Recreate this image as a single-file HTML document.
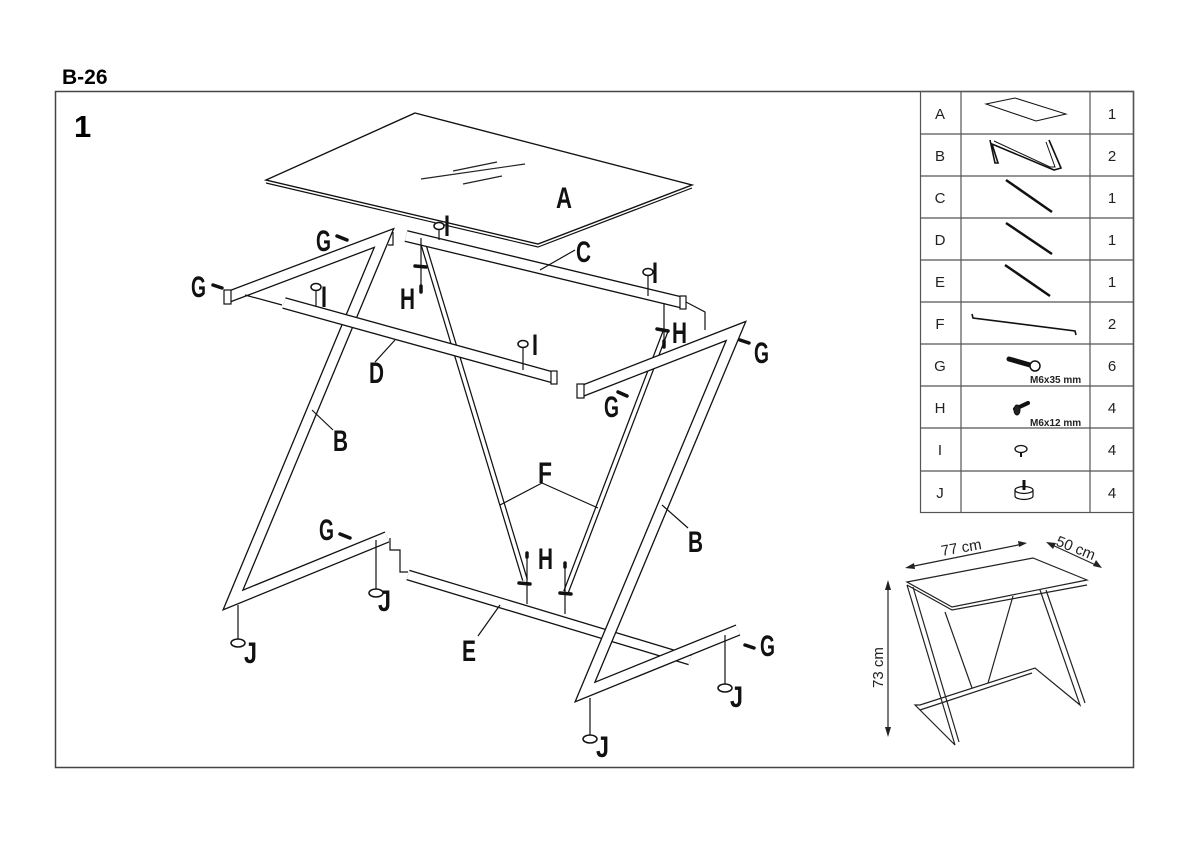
<!DOCTYPE html>
<html><head><meta charset="utf-8"><style>
html,body{margin:0;padding:0;background:#fff;width:1200px;height:848px;overflow:hidden}
svg{display:block}
.t{font-family:"Liberation Sans",sans-serif}
.lb{font-family:"Liberation Sans",sans-serif;font-weight:bold;font-size:30px}
</style></head><body>
<svg width="1200" height="848" viewBox="0 0 1200 848" xmlns="http://www.w3.org/2000/svg">
<text x="62" y="84" class="t" font-weight="bold" font-size="21">B-26</text>
<rect x="55.5" y="91.5" width="1078" height="676" fill="none" stroke="#444" stroke-width="1.5"/>
<text x="74" y="137" class="t" font-weight="bold" font-size="31">1</text>

<!-- glass A -->
<polygon points="415,113 692,185 538,244 266,180" fill="#fff" stroke="#111" stroke-width="1.4"/>
<polyline points="266,183 538,247 692,188" fill="none" stroke="#111" stroke-width="1.2"/>
<line x1="421" y1="179" x2="525" y2="164" stroke="#222" stroke-width="1.2"/>
<line x1="453" y1="171" x2="497" y2="162" stroke="#222" stroke-width="1.2"/>
<line x1="463" y1="184" x2="502" y2="176" stroke="#222" stroke-width="1.2"/>

<g fill="none" stroke-linejoin="miter" stroke-linecap="butt">
<g stroke="#111" stroke-width="6"><line x1="423" y1="243" x2="525" y2="580"/><line x1="666" y1="330" x2="566" y2="592"/></g>
<g stroke="#fff" stroke-width="3.5"><line x1="423" y1="243" x2="525" y2="580"/><line x1="666" y1="330" x2="566" y2="592"/></g>
<line x1="408" y1="575" x2="690" y2="660" stroke="#111" stroke-width="11"/>
<line x1="408" y1="575" x2="690" y2="660" stroke="#fff" stroke-width="8.4"/>
<polyline points="228,297 384,238 233,600 387,537" stroke="#111" stroke-width="12"/>
<polyline points="228,297 384,238 233,600 387,537" stroke="#fff" stroke-width="9.4"/>
<line x1="284" y1="303" x2="555" y2="378" stroke="#111" stroke-width="12"/>
<line x1="284" y1="303" x2="555" y2="378" stroke="#fff" stroke-width="9.4"/>
<line x1="406" y1="236" x2="684" y2="303" stroke="#111" stroke-width="12"/>
<line x1="406" y1="236" x2="684" y2="303" stroke="#fff" stroke-width="9.4"/>
<polyline points="582,391 736,331 585,692 738,630" stroke="#111" stroke-width="12"/>
<polyline points="582,391 736,331 585,692 738,630" stroke="#fff" stroke-width="9.4"/>
</g>
<g stroke="#111" stroke-width="1.2" fill="none">
<rect x="224" y="290" width="7" height="14" fill="#fff"/>
<rect x="577" y="384" width="7" height="14" fill="#fff"/>
<rect x="551" y="371" width="6" height="13" fill="#fff"/>
<rect x="680" y="296" width="6" height="13" fill="#fff"/>
<polyline points="393,232 393,245 388,245"/>
<polyline points="390,538 390,550 400,550 400,572 408,572"/>
<polyline points="686,302 705,312 705,330"/>
<line x1="245" y1="295" x2="282" y2="305"/>
<line x1="540" y1="270" x2="575" y2="250"/>
<line x1="395" y1="340" x2="375" y2="362"/>
<line x1="312" y1="410" x2="333" y2="430"/>
<polyline points="500,505 542,483 598,508"/>
<line x1="662" y1="505" x2="688" y2="528"/>
<line x1="500" y1="605" x2="478" y2="636"/>
<line x1="439" y1="228" x2="439" y2="240"/>
<line x1="316" y1="290" x2="316" y2="306"/>
<line x1="523" y1="347" x2="523" y2="370"/>
<line x1="648" y1="275" x2="648" y2="296"/>
<line x1="421" y1="238" x2="421" y2="285"/>
<line x1="664" y1="303" x2="664" y2="342"/>
<line x1="527" y1="555" x2="527" y2="604"/>
<line x1="565" y1="565" x2="565" y2="614"/>
<line x1="238" y1="605" x2="238" y2="640"/>
<line x1="376" y1="540" x2="376" y2="590"/>
<line x1="590" y1="698" x2="590" y2="735"/>
<line x1="725" y1="635" x2="725" y2="685"/>
</g>
<g fill="#fff" stroke="#111" stroke-width="1.5">
<ellipse cx="439" cy="226" rx="5" ry="3.5"/><ellipse cx="316" cy="287" rx="5" ry="3.5"/>
<ellipse cx="523" cy="344" rx="5" ry="3.5"/><ellipse cx="648" cy="272" rx="5" ry="3.5"/>
<ellipse cx="238" cy="643" rx="7" ry="4"/><ellipse cx="376" cy="593" rx="7" ry="4"/>
<ellipse cx="590" cy="739" rx="7" ry="4"/><ellipse cx="725" cy="688" rx="7" ry="4"/>
</g>
<g stroke="#111" stroke-width="3.5" stroke-linecap="round">
<line x1="337" y1="236" x2="347" y2="240"/><line x1="213" y1="285" x2="222" y2="288"/>
<line x1="749" y1="343" x2="740" y2="340"/><line x1="627" y1="396" x2="618" y2="392"/>
<line x1="340" y1="534" x2="350" y2="538"/><line x1="754" y1="648" x2="745" y2="645"/>
<line x1="421" y1="286" x2="421" y2="292"/><line x1="664" y1="341" x2="664" y2="347"/>
<line x1="527" y1="553" x2="527" y2="557"/><line x1="565" y1="563" x2="565" y2="567"/>
<line x1="415" y1="266" x2="426" y2="267"/><line x1="657" y1="329" x2="668" y2="331"/>
<line x1="519" y1="583" x2="530" y2="584"/><line x1="560" y1="593" x2="571" y2="594"/>
</g>
<g class="lb" fill="#111" lengthAdjust="spacingAndGlyphs">
<text x="556" y="208" textLength="16" lengthAdjust="spacingAndGlyphs">A</text>
<text x="576" y="262" textLength="15" lengthAdjust="spacingAndGlyphs">C</text>
<text x="444" y="236" textLength="6" lengthAdjust="spacingAndGlyphs">I</text>
<text x="316" y="251" textLength="15" lengthAdjust="spacingAndGlyphs">G</text>
<text x="191" y="297" textLength="15" lengthAdjust="spacingAndGlyphs">G</text>
<text x="321" y="307" textLength="6" lengthAdjust="spacingAndGlyphs">I</text>
<text x="400" y="309" textLength="15" lengthAdjust="spacingAndGlyphs">H</text>
<text x="369" y="383" textLength="15" lengthAdjust="spacingAndGlyphs">D</text>
<text x="532" y="355" textLength="6" lengthAdjust="spacingAndGlyphs">I</text>
<text x="652" y="283" textLength="6" lengthAdjust="spacingAndGlyphs">I</text>
<text x="672" y="343" textLength="15" lengthAdjust="spacingAndGlyphs">H</text>
<text x="754" y="363" textLength="15" lengthAdjust="spacingAndGlyphs">G</text>
<text x="604" y="417" textLength="15" lengthAdjust="spacingAndGlyphs">G</text>
<text x="333" y="451" textLength="15" lengthAdjust="spacingAndGlyphs">B</text>
<text x="538" y="483" textLength="14" lengthAdjust="spacingAndGlyphs">F</text>
<text x="688" y="552" textLength="15" lengthAdjust="spacingAndGlyphs">B</text>
<text x="319" y="540" textLength="15" lengthAdjust="spacingAndGlyphs">G</text>
<text x="538" y="569" textLength="15" lengthAdjust="spacingAndGlyphs">H</text>
<text x="378" y="611" textLength="13" lengthAdjust="spacingAndGlyphs">J</text>
<text x="462" y="661" textLength="14" lengthAdjust="spacingAndGlyphs">E</text>
<text x="244" y="663" textLength="13" lengthAdjust="spacingAndGlyphs">J</text>
<text x="760" y="656" textLength="15" lengthAdjust="spacingAndGlyphs">G</text>
<text x="730" y="707" textLength="13" lengthAdjust="spacingAndGlyphs">J</text>
<text x="596" y="757" textLength="13" lengthAdjust="spacingAndGlyphs">J</text>
</g>

<g stroke="#555" stroke-width="1.2" fill="none">
<rect x="920.5" y="91.5" width="213" height="421"/>
<line x1="961" y1="91" x2="961" y2="512"/><line x1="1090" y1="91" x2="1090" y2="512"/>
<line x1="920" y1="134" x2="1134" y2="134"/><line x1="920" y1="176" x2="1134" y2="176"/>
<line x1="920" y1="218" x2="1134" y2="218"/><line x1="920" y1="260" x2="1134" y2="260"/>
<line x1="920" y1="302" x2="1134" y2="302"/><line x1="920" y1="344" x2="1134" y2="344"/>
<line x1="920" y1="386" x2="1134" y2="386"/><line x1="920" y1="428" x2="1134" y2="428"/>
<line x1="920" y1="471" x2="1134" y2="471"/>
</g>
<g class="t" font-size="15" fill="#222" text-anchor="middle">
<text x="940" y="119">A</text><text x="940" y="161">B</text><text x="940" y="203">C</text>
<text x="940" y="245">D</text><text x="940" y="287">E</text><text x="940" y="329">F</text>
<text x="940" y="371">G</text><text x="940" y="413">H</text><text x="940" y="455">I</text>
<text x="940" y="498">J</text>
<text x="1112" y="119">1</text><text x="1112" y="161">2</text><text x="1112" y="203">1</text>
<text x="1112" y="245">1</text><text x="1112" y="287">1</text><text x="1112" y="329">2</text>
<text x="1112" y="371">6</text><text x="1112" y="413">4</text><text x="1112" y="455">4</text>
<text x="1112" y="498">4</text>
</g>
<g stroke="#111" fill="none">
<polygon points="986,104 1015,98 1066,114 1036,121" stroke-width="1"/>
<polyline points="990,140 995,163 998,163 992,144 1054,170 1061,168 1049,140" stroke-width="1.6"/>
<polyline points="994,141 1050,167 1055,167 1046,142" stroke-width="1"/>
<line x1="1006" y1="180" x2="1052" y2="212" stroke-width="2.5"/>
<line x1="1006" y1="223" x2="1052" y2="254" stroke-width="2.5"/>
<line x1="1005" y1="265" x2="1050" y2="296" stroke-width="2.5"/>
<polyline points="972,314 973,318 1075,331 1076,335" stroke-width="1.6"/>
<line x1="1009" y1="359" x2="1030" y2="365" stroke-width="5" stroke-linecap="round"/>
<circle cx="1035" cy="366" r="5" fill="#fff" stroke-width="1.5"/>
<line x1="1015" y1="409" x2="1028" y2="403" stroke-width="4" stroke-linecap="round"/>
<ellipse cx="1017" cy="410" rx="3" ry="5" fill="#222"/>
<ellipse cx="1021" cy="449" rx="6" ry="3.5" stroke-width="1.3"/>
<line x1="1021" y1="452" x2="1021" y2="457" stroke-width="2"/>
<path d="M1015,490 v6 a9,3.5 0 0 0 18,0 v-6" fill="#fff" stroke-width="1.2"/>
<ellipse cx="1024" cy="490" rx="9" ry="3.5" fill="#fff" stroke-width="1.2"/>
<line x1="1024" y1="480" x2="1024" y2="490" stroke-width="3"/>
</g>
<g class="t" font-weight="bold" font-size="10" fill="#222">
<text x="1030" y="383">M6x35 mm</text><text x="1030" y="426">M6x12 mm</text>
</g>

<g stroke="#222" fill="none" stroke-width="1.2">
<polygon points="907,582 1033,558 1087,580 952,607" fill="#fff"/>
<polyline points="907,585 952,610 1087,585"/>
<polyline points="907,585 955,745 915,705 920,705 1035,668 1080,705 1040,590"/>
<polyline points="913,587 959,742"/>
<polyline points="1046,590 1085,703"/>
<line x1="920" y1="710" x2="1032" y2="673"/>
<line x1="945" y1="612" x2="972" y2="688"/>
<line x1="1013" y1="596" x2="988" y2="683"/>
<line x1="888" y1="584" x2="888" y2="733"/>
<line x1="909" y1="567" x2="1023" y2="544"/>
<line x1="1050" y1="544" x2="1098" y2="566"/>
</g>
<g fill="#222">
<polygon points="888,580 885,590 891,590"/><polygon points="888,737 885,727 891,727"/>
<polygon points="905,568 914,563 915,569"/><polygon points="1027,543 1018,541 1019,547"/>
<polygon points="1046,542 1053,549 1056,543"/><polygon points="1102,568 1093,566 1096,560"/>
</g>
<g class="t" font-size="15" fill="#222">
<text x="0" y="0" transform="translate(942,556) rotate(-10)">77 cm</text>
<text x="0" y="0" transform="translate(1055,545) rotate(22)">50 cm</text>
<text x="0" y="0" transform="translate(883,688) rotate(-90)">73 cm</text>
</g>
</svg>
</body></html>
